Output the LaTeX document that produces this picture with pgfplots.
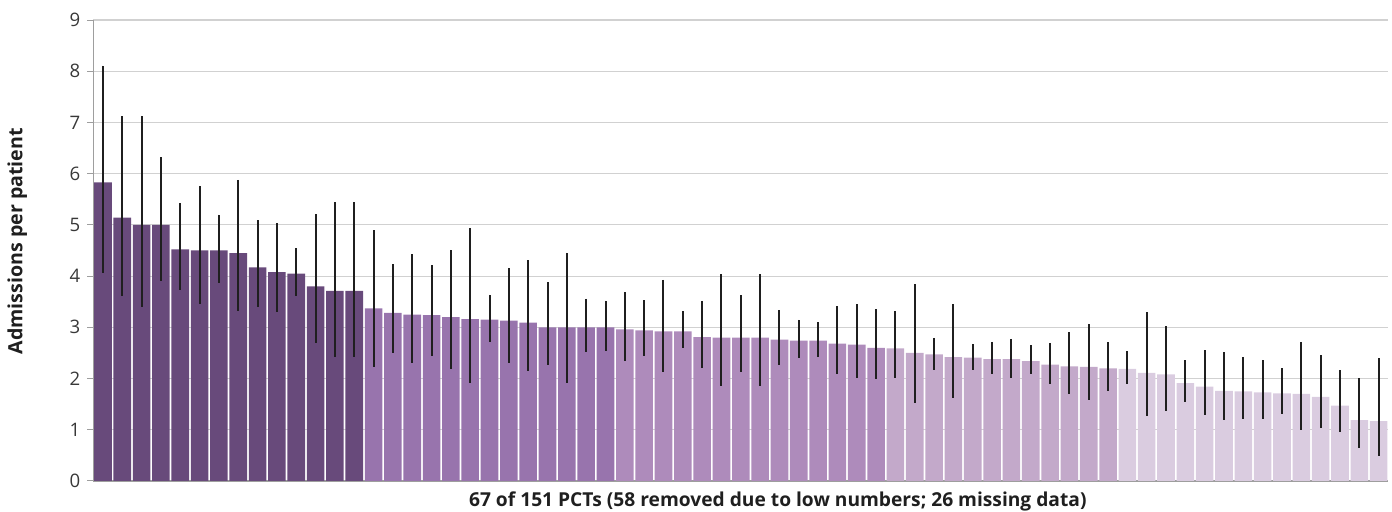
\documentclass[border=0pt]{standalone}
\usepackage{pgfplots}
\pgfplotsset{compat=1.18}
\usepackage{pgfplotstable}
\usepackage{fontspec}
\setmainfont{Open Sans}
\definecolor{gA}{HTML}{684A7B}
\definecolor{gB}{HTML}{9874AD}
\definecolor{gC}{HTML}{AE8BBB}
\definecolor{gD}{HTML}{C3A9CA}
\definecolor{gE}{HTML}{DACCE0}
\pgfplotstableread{
x y hi lo
1 5.83 8.11 4.07
2 5.14 7.12 3.61
3 5.00 7.13 3.39
4 5.00 6.32 3.91
5 4.52 5.43 3.73
6 4.50 5.76 3.46
7 4.50 5.20 3.87
8 4.45 5.88 3.31
9 4.17 5.09 3.39
10 4.08 5.03 3.29
11 4.05 4.54 3.61
12 3.80 5.21 2.70
13 3.71 5.44 2.43
14 3.71 5.44 2.43
}\tA
\pgfplotstableread{
x y hi lo
15 3.37 4.90 2.23
16 3.28 4.23 2.50
17 3.25 4.43 2.31
18 3.24 4.21 2.44
19 3.20 4.51 2.19
20 3.16 4.94 1.91
21 3.15 3.64 2.72
22 3.13 4.16 2.31
23 3.09 4.31 2.14
24 3.00 3.88 2.27
25 3.00 4.46 1.92
26 3.00 3.56 2.51
27 3.00 3.52 2.53
}\tB
\pgfplotstableread{
x y hi lo
28 2.96 3.69 2.35
29 2.94 3.53 2.44
30 2.92 3.93 2.13
31 2.92 3.31 2.59
32 2.81 3.52 2.21
33 2.80 4.04 1.86
34 2.80 3.63 2.12
35 2.80 4.04 1.86
36 2.76 3.34 2.27
37 2.74 3.15 2.40
38 2.74 3.10 2.42
39 2.68 3.41 2.08
40 2.66 3.46 2.02
41 2.60 3.35 1.99
}\tC
\pgfplotstableread{
x y hi lo
42 2.59 3.31 2.01
43 2.50 3.85 1.53
44 2.47 2.80 2.17
45 2.42 3.46 1.62
46 2.41 2.68 2.16
47 2.38 2.72 2.08
48 2.38 2.78 2.02
49 2.34 2.65 2.08
50 2.27 2.70 1.89
51 2.24 2.90 1.69
52 2.23 3.07 1.58
53 2.20 2.71 1.76
}\tD
\pgfplotstableread{
x y hi lo
54 2.19 2.53 1.90
55 2.11 3.30 1.27
56 2.08 3.02 1.37
57 1.91 2.36 1.54
58 1.84 2.56 1.28
59 1.76 2.51 1.20
60 1.75 2.43 1.22
61 1.73 2.37 1.22
62 1.71 2.20 1.31
63 1.70 2.72 1.00
64 1.64 2.46 1.04
65 1.47 2.17 0.96
66 1.19 2.02 0.64
67 1.17 2.40 0.48
}\tE
\pgfplotsset{
  errstyle/.style={draw=none,
    error bars/y dir=both, error bars/y explicit, error bars/error mark=none,
    error bars/error bar style={line width=1pt, draw=black!88, solid}},
}
\begin{document}
\begin{tikzpicture}
\useasboundingbox (-46.65pt,-15.5pt) rectangle (649.35pt,240.5pt);
\begin{axis}[
  at={(0,0)}, anchor=south west,
  scale only axis, width=647.5pt, height=230.5pt,
  xmin=0.5, xmax=67.5, ymin=0, ymax=9,
  ytick={0,1,...,9}, xtick=\empty,
  axis x line=bottom, axis y line=left,
  axis line style={-, draw=black!38, line width=0.7pt},
  ymajorgrids, grid style={draw=black!18, line width=0.6pt},
  tick align=outside, major tick length=3pt,
  ytick style={draw=black!38, line width=0.5pt},
  tick label style={font=\fontsize{9.3}{10}\selectfont, text=black!78},
  /pgf/number format/assume math mode=true,
  ybar, bar width=0.91, bar shift=0pt,
  xlabel={67 of 151 PCTs (58 removed due to low numbers; 26 missing data)},
  ylabel={Admissions per patient},
  every axis x label/.style={at={(axis description cs:0.5,0)}, xshift=18.5pt, yshift=-13pt, anchor=base, font=\fontsize{9.6}{11}\selectfont\bfseries, text=black!88},
  every axis y label/.style={at={(axis description cs:0,0.52)}, xshift=-38pt, rotate=90, anchor=center, font=\fontsize{9.8}{11}\selectfont\bfseries, text=black!88},
]
\addplot[fill=gA, errstyle] table[x=x, y=y, y error plus expr=\thisrow{hi}-\thisrow{y}, y error minus expr=\thisrow{y}-\thisrow{lo}] {\tA};
\addplot[fill=gB, errstyle] table[x=x, y=y, y error plus expr=\thisrow{hi}-\thisrow{y}, y error minus expr=\thisrow{y}-\thisrow{lo}] {\tB};
\addplot[fill=gC, errstyle] table[x=x, y=y, y error plus expr=\thisrow{hi}-\thisrow{y}, y error minus expr=\thisrow{y}-\thisrow{lo}] {\tC};
\addplot[fill=gD, errstyle] table[x=x, y=y, y error plus expr=\thisrow{hi}-\thisrow{y}, y error minus expr=\thisrow{y}-\thisrow{lo}] {\tD};
\addplot[fill=gE, errstyle] table[x=x, y=y, y error plus expr=\thisrow{hi}-\thisrow{y}, y error minus expr=\thisrow{y}-\thisrow{lo}] {\tE};
\end{axis}
\end{tikzpicture}
\end{document}
